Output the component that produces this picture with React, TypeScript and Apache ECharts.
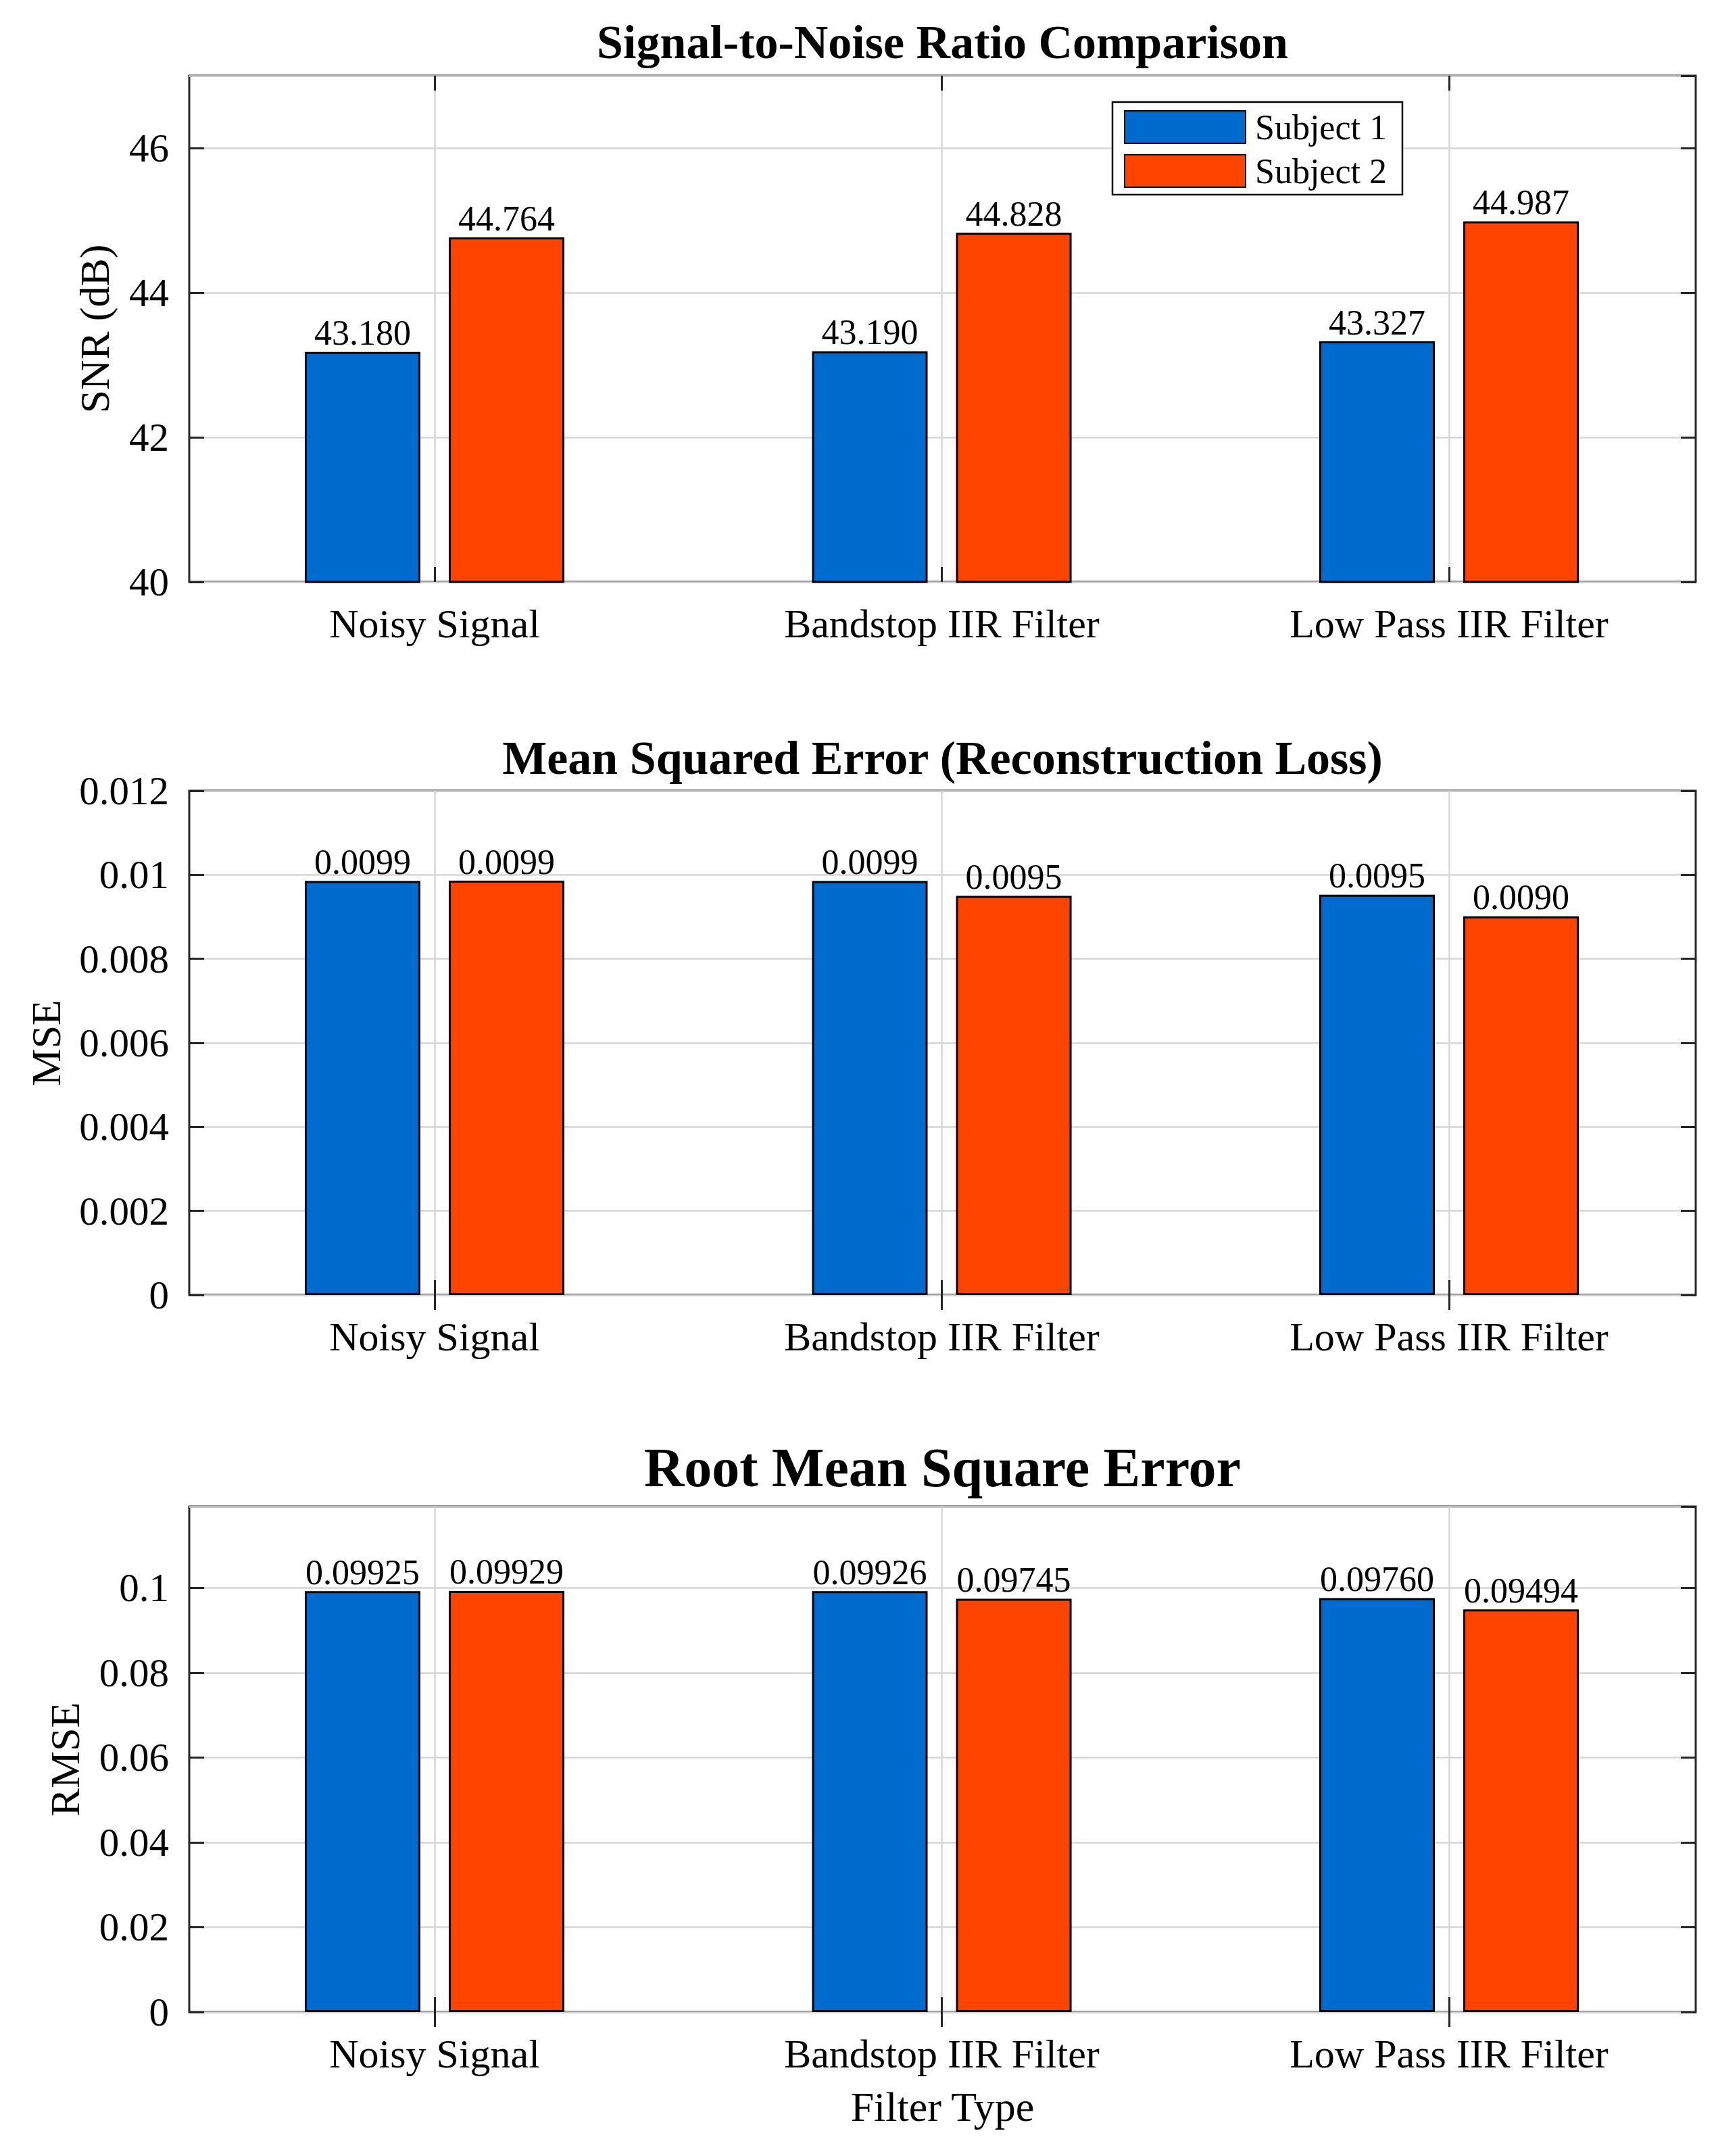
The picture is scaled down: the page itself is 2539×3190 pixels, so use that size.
import React, { useEffect, useRef } from 'react';
import * as echarts from 'echarts';

// ---------- data ----------
const categories = ['Noisy Signal', 'Bandstop IIR Filter', 'Low Pass IIR Filter'];
const seriesNames = ['Subject 1', 'Subject 2'];

const snrSubject1 = [43.18, 43.19, 43.327];
const snrSubject2 = [44.764, 44.828, 44.987];

const mseSubject1 = [0.009851, 0.009853, 0.009526];
const mseSubject2 = [0.009859, 0.009497, 0.009014];

const rmseSubject1 = [0.09925, 0.09926, 0.0976];
const rmseSubject2 = [0.09929, 0.09745, 0.09494];

const snrAxis = { min: 40, max: 47, interval: 2 };
const mseAxis = { min: 0, max: 0.012, interval: 0.002 };
const rmseAxis = { min: 0, max: 0.1192, interval: 0.02 };

const categoryTicks = [1, 2, 3];
const xRange = { min: 0.5163, max: 3.4863 };

// ---------- styling / layout ----------
const FONT = 'Liberation Serif';
const COLORS = ['#006BCF', '#FF4400'];
const AXIS_COLOR = '#262626';
const GRID_COLOR = '#d6d6d6';

const panels = [
  {
    title: 'Signal-to-Noise Ratio Comparison', titleSize: 70, titleY: 62,
    yName: 'SNR (dB)', yNameX: 140,
    s1: snrSubject1, s2: snrSubject2, axis: snrAxis, decimals: 3, showMax: false,
    top: 112, height: 749,
  },
  {
    title: 'Mean Squared Error (Reconstruction Loss)', titleSize: 70, titleY: 1121,
    yName: 'MSE', yNameX: 68,
    s1: mseSubject1, s2: mseSubject2, axis: mseAxis, decimals: 4, showMax: true,
    top: 1170, height: 746,
  },
  {
    title: 'Root Mean Square Error', titleSize: 82, titleY: 2171,
    yName: 'RMSE', yNameX: 96,
    s1: rmseSubject1, s2: rmseSubject2, axis: rmseAxis, decimals: 5, showMax: false,
    top: 2229, height: 748,
  },
];

const GRID_LEFT = 280;
const GRID_WIDTH = 2229;
const CENTER_X = GRID_LEFT + GRID_WIDTH / 2;

export default function App() {
  const ref = useRef<HTMLDivElement>(null);

  useEffect(() => {
    if (!ref.current) return;
    const chart = echarts.init(ref.current, undefined, { renderer: 'svg' });

    const grids: any[] = [];
    const xAxes: any[] = [];
    const yAxes: any[] = [];
    const series: any[] = [];
    const graphics: any[] = [];

    const tickStyle = { color: AXIS_COLOR, width: 3 };

    panels.forEach((p, i) => {
      grids.push({
        left: GRID_LEFT, top: p.top, width: GRID_WIDTH, height: p.height,
        show: true, borderColor: AXIS_COLOR, borderWidth: 3, backgroundColor: '#fff',
        containLabel: false,
      });
      // bottom x axis
      xAxes.push({
        type: 'value', gridIndex: i, position: 'bottom',
        min: xRange.min, max: xRange.max,
        axisLine: { show: false },
        axisTick: { show: true, inside: true, length: 22, lineStyle: tickStyle, customValues: categoryTicks },
        axisLabel: {
          show: true, customValues: categoryTicks, margin: 32,
          formatter: (v: number) => categories[Math.round(v) - 1] ?? '',
          fontFamily: FONT, fontSize: 60, color: '#000', lineHeight: 60,
        },
        splitLine: { show: true, lineStyle: { color: GRID_COLOR, width: 2.5 } },
      });
      // top x axis (ticks only)
      xAxes.push({
        type: 'value', gridIndex: i, position: 'top',
        min: xRange.min, max: xRange.max,
        axisLine: { show: false },
        axisTick: { show: true, inside: true, length: 22, lineStyle: tickStyle, customValues: categoryTicks },
        axisLabel: { show: false, customValues: categoryTicks },
        splitLine: { show: false },
      });
      // left y axis
      yAxes.push({
        type: 'value', gridIndex: i, position: 'left',
        min: p.axis.min, max: p.axis.max, interval: p.axis.interval,
        axisLine: { show: false },
        axisTick: { show: true, inside: true, length: 22, lineStyle: tickStyle },
        axisLabel: {
          show: true, margin: 30, showMaxLabel: p.showMax, showMinLabel: true,
          fontFamily: FONT, fontSize: 59, color: '#000',
        },
        splitLine: { show: true, lineStyle: { color: GRID_COLOR, width: 2.5 } },
      });
      // right y axis (ticks only)
      yAxes.push({
        type: 'value', gridIndex: i, position: 'right',
        min: p.axis.min, max: p.axis.max, interval: p.axis.interval,
        axisLine: { show: false },
        axisTick: { show: true, inside: true, length: 22, lineStyle: tickStyle },
        axisLabel: { show: false },
        splitLine: { show: false },
      });

      [p.s1, p.s2].forEach((vals, k) => {
        series.push({
          type: 'bar',
          name: seriesNames[k],
          xAxisIndex: i * 2,
          yAxisIndex: i * 2,
          barWidth: 171,
          barGap: '24.6%',
          data: vals.map((v, j) => [j + 1, v]),
          itemStyle: { color: COLORS[k], borderColor: '#000', borderWidth: 3 },
          label: {
            show: true, position: 'top', distance: 2,
            formatter: (prm: any) => Number(prm.value[1]).toFixed(p.decimals),
            fontFamily: FONT, fontSize: 52, color: '#000',
          },
          emphasis: { disabled: true },
        });
      });

      graphics.push({
        type: 'text', x: CENTER_X, y: p.titleY,
        style: {
          text: p.title, fontFamily: FONT, fontWeight: 'bold', fontSize: p.titleSize,
          fill: '#000', align: 'center', verticalAlign: 'middle',
        },
      });
      graphics.push({
        type: 'text', x: p.yNameX, y: p.top + p.height / 2, rotation: Math.PI / 2,
        style: {
          text: p.yName, fontFamily: FONT, fontSize: 62,
          fill: '#000', align: 'center', verticalAlign: 'middle',
        },
      });
    });

    graphics.push({
      type: 'text', x: CENTER_X, y: 3117,
      style: {
        text: 'Filter Type', fontFamily: FONT, fontSize: 62,
        fill: '#000', align: 'center', verticalAlign: 'middle',
      },
    });

    chart.setOption({
      animation: false,
      backgroundColor: '#fff',
      grid: grids,
      xAxis: xAxes,
      yAxis: yAxes,
      series,
      graphic: graphics,
      legend: {
        data: seriesNames,
        orient: 'vertical',
        left: 1646, top: 151,
        itemWidth: 179, itemHeight: 48, itemGap: 13,
        padding: [11, 23, 9, 17],
        backgroundColor: '#fff', borderColor: '#000', borderWidth: 2.5,
        icon: 'rect',
        selectedMode: false,
        textStyle: { fontFamily: FONT, fontSize: 52, color: '#000', padding: [0, 0, 0, 9] },
      },
    });

    return () => chart.dispose();
  }, []);

  return (
    <div
      ref={ref}
      style={{ position: 'absolute', left: 0, top: 0, width: 2539, height: 3190, background: '#fff' }}
    />
  );
}
